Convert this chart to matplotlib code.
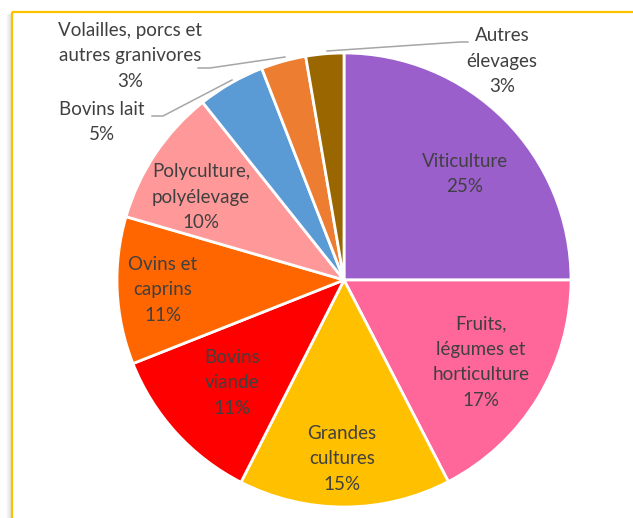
import numpy as np
import matplotlib.pyplot as plt

# Répartition des exploitations par orientation
categories = ["Viticulture", "Fruits,\nlégumes et\nhorticulture", "Grandes\ncultures",
              "Bovins\nviande", "Ovins et\ncaprins", "Polyculture,\npolyélevage",
              "Bovins lait", "Volailles, porcs et\nautres granivores", "Autres\nélevages"]
shares = [25.0, 17.4, 15.1, 11.5, 10.5, 9.8, 4.8, 3.2, 2.7]
pct_labels = ["25%", "17%", "15%", "11%", "11%", "10%", "5%", "3%", "3%"]
colors = ["#9B5FCC", "#FF6699", "#FFC000", "#FF0000", "#FF6600",
          "#FF9999", "#5B9BD5", "#ED7D31", "#996600"]

W, H = 633, 518
fig = plt.figure(figsize=(W / 100, H / 100), dpi=100)
ax = fig.add_axes([0, 0, 1, 1])
ax.set_xlim(0, W)
ax.set_ylim(0, H)
ax.axis("off")

cx, cy, r = 344, H - 280, 227
explode = [0.018] + [0] * 8
wedges, _ = ax.pie(shares, colors=colors, startangle=90, counterclock=False,
                   center=(cx, cy), radius=r, explode=explode,
                   wedgeprops=dict(edgecolor="white", linewidth=2))
ax.set_xlim(0, W)
ax.set_ylim(0, H)
ax.set_aspect("equal")

txt = dict(ha="center", va="center", fontsize=13.5, color="#404040",
           family="Lato", linespacing=1.6)

# label centres (pixel positions, y from top)
label_pos = [(465, 174), (481, 362), (342, 459), (232, 383), (163, 290),
             (201, 197), (102, 122), (130, 56), (502, 61)]
for name, pct, (x, y) in zip(categories, pct_labels, label_pos):
    ax.text(x, H - y, name + "\n" + pct, **txt)

# leader lines
leaders = [
    [(152, 116), (163, 116), (232, 80)],
    [(198, 68), (210, 68), (285, 57)],
    [(327, 51), (460, 42), (468, 42)],
]
for pts in leaders:
    xs = [p[0] for p in pts]
    ys = [H - p[1] for p in pts]
    ax.plot(xs, ys, color="#A6A6A6", lw=1.1)

# frame: shadow + yellow border
for i, a in enumerate(np.linspace(0.02, 0.25, 6)):
    xx = 6 + i
    ax.plot([xx, xx], [0, H - 14], color="gray", alpha=a, lw=0.8)
ax.plot([12, 12], [0, H - 12], color="#FFC000", lw=1.6, solid_capstyle="butt")
ax.plot([12, W], [H - 12, H - 12], color="#FFC000", lw=1.6, solid_capstyle="butt")

fig.savefig("out.png", dpi=100)
